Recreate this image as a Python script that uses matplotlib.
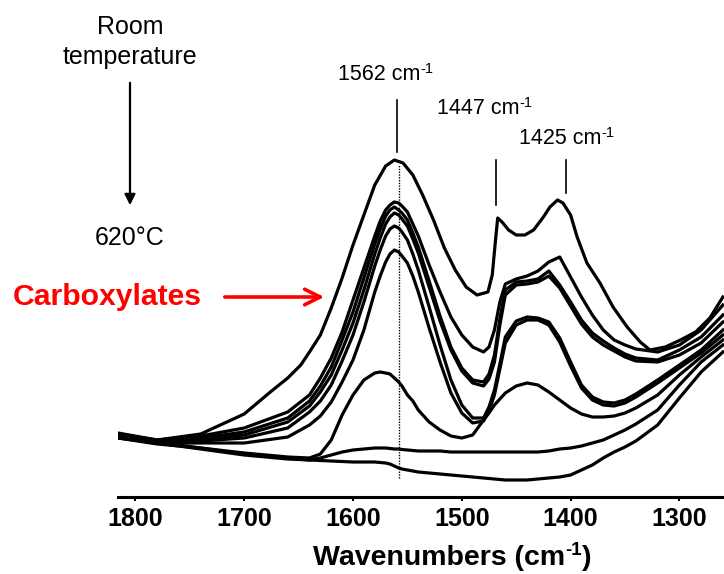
import matplotlib
matplotlib.use('Agg')
import matplotlib.pyplot as plt

# wavenumber grid shared by most spectra (cm-1)
wn = [1816, 1780, 1740, 1700, 1660, 1640, 1630, 1620, 1610, 1600, 1590, 1580,
      1575, 1570, 1566, 1562, 1558, 1555, 1550, 1545, 1540, 1530, 1520, 1510,
      1500, 1490, 1480, 1475, 1470, 1465, 1460, 1450, 1440, 1430, 1420, 1410,
      1400, 1390, 1380, 1370, 1360, 1350, 1340, 1320, 1300, 1280, 1260]

# room temperature spectrum (sharper features, own grid)
wn_a = [1816, 1780, 1740, 1700, 1676, 1660, 1648, 1640, 1630, 1620, 1610, 1600,
        1590, 1580, 1570, 1562, 1554, 1545, 1536, 1526, 1516, 1506, 1496, 1486,
        1476, 1472, 1469, 1467, 1463, 1457, 1450, 1442, 1434, 1425, 1419, 1412,
        1407, 1400, 1394, 1385, 1373, 1361, 1348, 1336, 1327, 1313, 1299, 1285,
        1272, 1260]
abs_a = [0.64, 0.57, 0.63, 0.83, 1.05, 1.19, 1.32, 1.45, 1.62, 1.89, 2.19, 2.52,
         2.82, 3.12, 3.31, 3.37, 3.34, 3.22, 3.02, 2.77, 2.49, 2.27, 2.10, 2.02,
         2.05, 2.22, 2.57, 2.79, 2.75, 2.67, 2.62, 2.62, 2.67, 2.80, 2.90, 2.97,
         2.94, 2.82, 2.60, 2.34, 2.14, 1.90, 1.70, 1.55, 1.47, 1.50, 1.57, 1.65,
         1.79, 2.00]

abs_b = [0.63, 0.57, 0.61, 0.69, 0.85, 1.02, 1.19, 1.39, 1.65, 1.97, 2.29, 2.61,
         2.76, 2.87, 2.92, 2.95, 2.94, 2.91, 2.85, 2.73, 2.61, 2.32, 2.05, 1.80,
         1.62, 1.50, 1.45, 1.50, 1.67, 1.95, 2.13, 2.18, 2.21, 2.26, 2.35, 2.40,
         2.20, 2.00, 1.82, 1.67, 1.57, 1.52, 1.48, 1.45, 1.52, 1.67, 1.92]
abs_c = [0.62, 0.56, 0.59, 0.65, 0.79, 0.96, 1.11, 1.30, 1.57, 1.85, 2.19, 2.53,
         2.68, 2.81, 2.87, 2.90, 2.87, 2.84, 2.77, 2.64, 2.50, 2.16, 1.81, 1.50,
         1.29, 1.17, 1.15, 1.23, 1.42, 1.78, 2.07, 2.15, 2.16, 2.18, 2.26, 2.12,
         1.95, 1.77, 1.64, 1.56, 1.49, 1.43, 1.39, 1.37, 1.47, 1.60, 1.82]
abs_d = [0.61, 0.56, 0.58, 0.62, 0.75, 0.91, 1.05, 1.22, 1.47, 1.74, 2.07, 2.43,
         2.59, 2.73, 2.80, 2.84, 2.82, 2.78, 2.71, 2.58, 2.44, 2.10, 1.76, 1.47,
         1.26, 1.14, 1.11, 1.18, 1.35, 1.72, 2.02, 2.12, 2.13, 2.15, 2.21, 2.09,
         1.91, 1.73, 1.60, 1.52, 1.46, 1.40, 1.36, 1.35, 1.42, 1.54, 1.75]
abs_e1 = [0.60, 0.55, 0.56, 0.59, 0.69, 0.85, 0.96, 1.12, 1.36, 1.62, 1.95, 2.31,
          2.47, 2.61, 2.68, 2.71, 2.69, 2.65, 2.57, 2.43, 2.27, 1.90, 1.52, 1.17,
          0.92, 0.79, 0.79, 0.90, 1.07, 1.33, 1.60, 1.76, 1.80, 1.79, 1.75, 1.59,
          1.35, 1.12, 1.00, 0.95, 0.94, 0.97, 1.03, 1.17, 1.32, 1.47, 1.67]
abs_e2 = [0.59, 0.54, 0.54, 0.54, 0.60, 0.72, 0.81, 0.95, 1.15, 1.37, 1.67, 2.05,
          2.21, 2.35, 2.43, 2.47, 2.45, 2.41, 2.34, 2.21, 2.05, 1.69, 1.35, 1.04,
          0.84, 0.74, 0.76, 0.86, 1.02, 1.28, 1.54, 1.72, 1.77, 1.77, 1.72, 1.55,
          1.31, 1.09, 0.97, 0.92, 0.91, 0.94, 1.00, 1.14, 1.29, 1.44, 1.62]
abs_f = [0.59, 0.53, 0.49, 0.44, 0.40, 0.39, 0.43, 0.57, 0.82, 1.02, 1.17, 1.24,
         1.25, 1.24, 1.23, 1.19, 1.15, 1.11, 1.02, 0.96, 0.87, 0.75, 0.67, 0.61,
         0.59, 0.62, 0.77, 0.84, 0.92, 0.98, 1.04, 1.11, 1.14, 1.12, 1.05, 0.97,
         0.89, 0.83, 0.80, 0.80, 0.81, 0.84, 0.89, 1.02, 1.22, 1.40, 1.57]
abs_g = [0.61, 0.55, 0.49, 0.43, 0.39, 0.37, 0.39, 0.42, 0.45, 0.47, 0.48, 0.49,
         0.49, 0.49, 0.485, 0.48, 0.48, 0.475, 0.47, 0.465, 0.46, 0.46, 0.46, 0.45,
         0.45, 0.45, 0.45, 0.45, 0.45, 0.45, 0.45, 0.45, 0.45, 0.45, 0.46, 0.48,
         0.49, 0.51, 0.54, 0.57, 0.62, 0.67, 0.73, 0.87, 1.12, 1.35, 1.52]
abs_h = [0.60, 0.54, 0.48, 0.42, 0.38, 0.37, 0.365, 0.36, 0.355, 0.35, 0.35, 0.35,
         0.345, 0.34, 0.33, 0.31, 0.29, 0.28, 0.27, 0.26, 0.25, 0.24, 0.23, 0.22,
         0.21, 0.20, 0.19, 0.185, 0.18, 0.175, 0.17, 0.17, 0.17, 0.18, 0.19, 0.20,
         0.22, 0.27, 0.32, 0.39, 0.45, 0.50, 0.56, 0.72, 0.99, 1.25, 1.45]

xticks = [1800, 1700, 1600, 1500, 1400, 1300]
peak_labels = ['1562 cm', '1447 cm', '1425 cm']
peak_marks = [1560, 1469, 1404]   # where the marker lines sit on the plot

plt.rcParams['font.family'] = ['Liberation Sans', 'DejaVu Sans']

W, H = 724, 574
def fx(x):
    return x / W
def fy(y):
    return 1 - y / H

# texto con superindice "-1" pegado a la derecha
def con_exponente(x, y, base, size, sup_size, weight='normal', cierre=None):
    t = fig.text(fx(x), fy(y), base, ha='left', va='center', fontsize=size, fontweight=weight)
    s = ax.annotate('-1', xy=(1, 0.78), xycoords=t, ha='left', va='center',
                    fontsize=sup_size, fontweight=weight)
    if cierre:
        ax.annotate(cierre, xy=(1, 0), xycoords=(s, t), ha='left', va='bottom',
                    fontsize=size, fontweight=weight)
    return t

fig = plt.figure(figsize=(W / 100, H / 100), dpi=100)
ax = fig.add_axes([fx(118), fy(497), (W - 118) / W, 497 / H])

ax.plot(wn_a, abs_a, color='black', lw=2.3, solid_joinstyle='round')
for serie in [abs_b, abs_c, abs_d, abs_e1, abs_e2, abs_f, abs_g, abs_h]:
    ax.plot(wn, serie, color='black', lw=2.3, solid_joinstyle='round')

# dotted guide through the main carboxylate band
ax.plot([1558, 1558], [0.19, 3.32], color='black', lw=1, ls=(0, (1, 1)))

# marker lines over the peaks
ax.plot([peak_marks[0]] * 2, [3.45, 3.97], color='black', lw=1.2)
ax.plot([peak_marks[1]] * 2, [2.92, 3.37], color='black', lw=1.2)
ax.plot([peak_marks[2]] * 2, [3.04, 3.37], color='black', lw=1.2)

ax.set_xlim(1816, 1259)
ax.set_ylim(0, 4.97)
for lado in ['top', 'left', 'right']:
    ax.spines[lado].set_visible(False)
ax.spines['bottom'].set_linewidth(2.2)
ax.set_yticks([])
ax.set_xticks(xticks)
ax.tick_params(axis='x', direction='out', length=3, width=1.5, pad=4, labelsize=18)
for lbl in ax.get_xticklabels():
    lbl.set_fontweight('bold')

con_exponente(313, 558, 'Wavenumbers (cm', 20.5, 13.5, weight='bold', cierre=')')

# temperature arrow
fig.text(fx(130), fy(27), 'Room', ha='center', va='center', fontsize=18)
fig.text(fx(130), fy(57), 'temperature', ha='center', va='center', fontsize=18)
ax.annotate('', xy=(fx(130), fy(208)), xytext=(fx(130), fy(80)), xycoords='figure fraction',
            arrowprops=dict(arrowstyle='-|>', color='black', lw=1.6, mutation_scale=16))
fig.text(fx(130), fy(238), '620°C', ha='center', va='center', fontsize=18)

# peak labels
con_exponente(338, 75, peak_labels[0], 15.5, 10.5)
con_exponente(437, 109, peak_labels[1], 15.5, 10.5)
con_exponente(519, 139, peak_labels[2], 15.5, 10.5)

# carboxylates label
fig.text(fx(13), fy(297), 'Carboxylates', ha='left', va='center', color='#ff0000',
         fontsize=21.7, fontweight='bold')
ax.annotate('', xy=(fx(327), fy(297)), xytext=(fx(222), fy(297)), xycoords='figure fraction',
            arrowprops=dict(arrowstyle='->', color='#ff0000', lw=2.6, mutation_scale=28))

fig.savefig('out.png', dpi=100)
